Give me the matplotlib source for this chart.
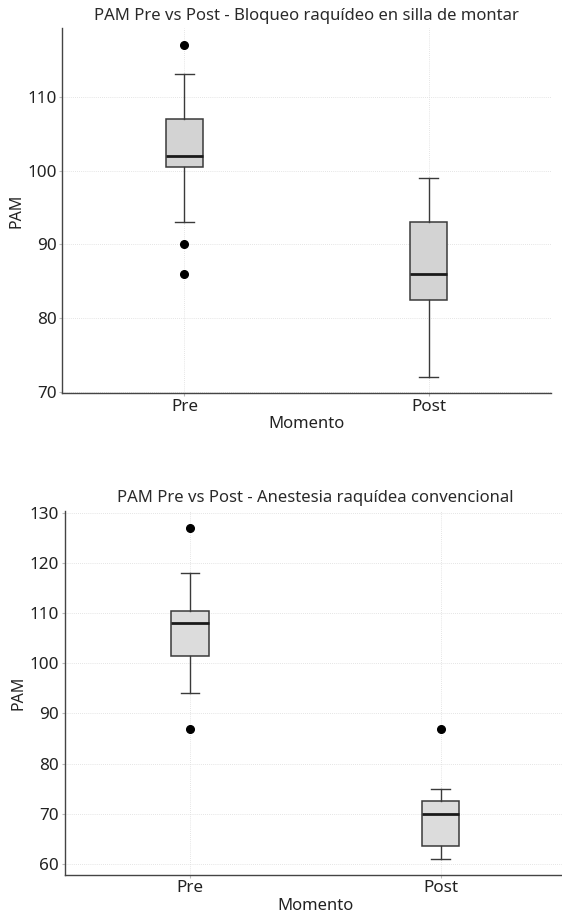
import matplotlib
matplotlib.use("Agg")
import matplotlib.pyplot as plt

plt.rcParams['font.family'] = ['Noto Sans', 'DejaVu Sans']

categories = ["Pre", "Post"]

# Panel 1: Bloqueo raquídeo en silla de montar
title1 = "PAM Pre vs Post - Bloqueo raquídeo en silla de montar"
q1_1 = [100.5, 82.5]
med_1 = [102, 86]
q3_1 = [107, 93]
wlo_1 = [93, 72]
whi_1 = [113, 99]
fliers_1 = [[117, 90, 86], []]

# Panel 2: Anestesia raquídea convencional
title2 = "PAM Pre vs Post - Anestesia raquídea convencional"
q1_2 = [101.5, 63.5]
med_2 = [108, 70]
q3_2 = [110.5, 72.5]
wlo_2 = [94, 61]
whi_2 = [118, 75]
fliers_2 = [[127, 87], [87]]

W, H = 562, 914
fig = plt.figure(figsize=(W / 100, H / 100), dpi=100)


def make_axes(left, right, top, bottom):
    return fig.add_axes([left / W, 1 - bottom / H, (right - left) / W, (bottom - top) / H])


ax1 = make_axes(62.3, 550.7, 28.3, 393.3)
ax2 = make_axes(64.7, 566.0, 510.7, 874.7)


def draw(ax, title, q1, med, q3, wlo, whi, fliers, fill):
    stats = []
    for i, lab in enumerate(categories):
        stats.append(dict(label=lab, q1=q1[i], med=med[i], q3=q3[i],
                          whislo=wlo[i], whishi=whi[i], fliers=fliers[i]))
    ax.bxp(stats, positions=[1, 2], widths=0.15, patch_artist=True,
           boxprops=dict(facecolor=fill, edgecolor='#3a3a3a', linewidth=1.1),
           medianprops=dict(color='#1a1a1a', linewidth=2.0),
           whiskerprops=dict(color='#3a3a3a', linewidth=1.0),
           capprops=dict(color='#3a3a3a', linewidth=1.0),
           flierprops=dict(marker='o', markerfacecolor='black',
                           markeredgecolor='black', markersize=5.5))
    ax.set_xlim(0.5, 2.5)
    ax.set_title(title, fontsize=12.0, color='#2a2a2a', pad=6)
    ax.set_xlabel("Momento", fontsize=12, color='#222222', labelpad=1)
    ax.set_ylabel("PAM", fontsize=11.5, color='#222222', labelpad=2)
    ax.grid(True, linestyle=(0, (1, 1.5)), color='#dcdcdc', linewidth=0.6)
    ax.set_axisbelow(True)
    for s in ['top', 'right']:
        ax.spines[s].set_visible(False)
    for s in ['left', 'bottom']:
        ax.spines[s].set_color('#444444')
        ax.spines[s].set_linewidth(1.0)
    ax.tick_params(axis='both', length=2, color='#bbbbbb', labelsize=12.3,
                   labelcolor='#222222', pad=2)


draw(ax1, title1, q1_1, med_1, q3_1, wlo_1, whi_1, fliers_1, '#d3d3d3')
draw(ax2, title2, q1_2, med_2, q3_2, wlo_2, whi_2, fliers_2, '#dcdcdc')
ax1.set_yticks([70, 80, 90, 100, 110])
ax2.set_yticks([60, 70, 80, 90, 100, 110, 120, 130])
ax1.set_ylim(69.86, 119.25)
ax2.set_ylim(57.87, 130.4)

fig.savefig("out.png", dpi=100, facecolor='white')
